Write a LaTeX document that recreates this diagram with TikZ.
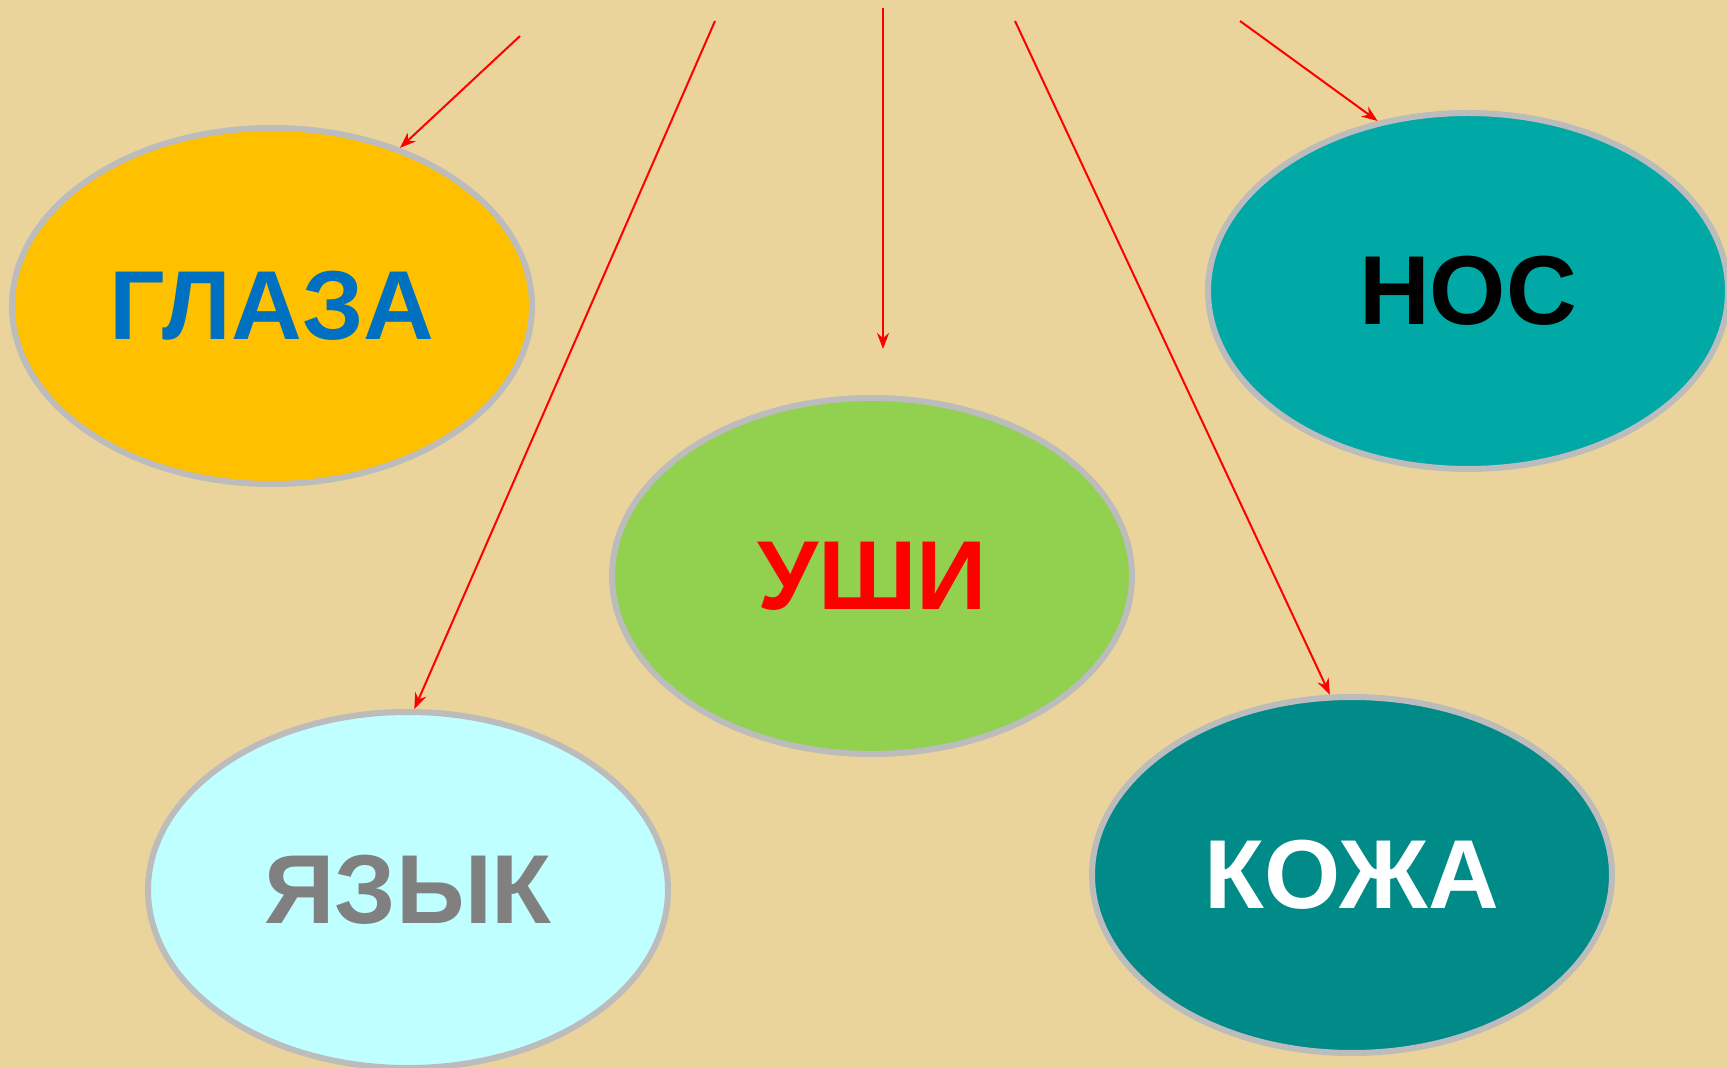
\documentclass[tikz,border=0pt]{standalone}
\usepackage{fontspec}
\setmainfont{Liberation Sans}
\usepackage{tikz}
\usetikzlibrary{shapes.geometric}
\usetikzlibrary{arrows.meta}
\definecolor{papyrus}{RGB}{235,212,156}
\definecolor{rimgray}{RGB}{188,188,188}
\definecolor{glazafill}{RGB}{255,192,0}
\definecolor{glazatext}{RGB}{0,112,192}
\definecolor{nosfill}{RGB}{0,168,166}
\definecolor{ushifill}{RGB}{146,208,80}
\definecolor{yazykfill}{RGB}{192,255,255}
\definecolor{yazyktext}{RGB}{128,128,128}
\definecolor{kozhafill}{RGB}{0,139,136}

\begin{document}
\begin{tikzpicture}[x=0.5pt, y=-0.5pt,
    sense/.style={ellipse, draw=rimgray, line width=3pt, minimum width=260pt, minimum height=178pt, inner sep=0pt, font=\fontsize{49}{49}\selectfont\bfseries},
    pointer/.style={red, line width=1pt, -{Stealth[length=8pt,width=6pt]}}]
      \fill[papyrus] (0, 0) rectangle (1727, 1068);
      \useasboundingbox (0, 0) rectangle (1727, 1068);
      \node[sense, fill=glazafill, text=glazatext] (glaza) at (272, 306) {ГЛАЗА};
      \node[sense, fill=nosfill, text=black] (nos) at (1468, 291) {НОС};
      \node[sense, fill=ushifill, text=red] (ushi) at (872, 576) {УШИ};
      \node[sense, fill=yazykfill, text=yazyktext] (yazyk) at (408, 890) {ЯЗЫК};
      \node[sense, fill=kozhafill, text=white] (kozha) at (1352, 875) {КОЖА};
      \coordinate (s1) at (520, 36);
      \coordinate (s2) at (715, 21);
      \coordinate (s3) at (883, 8);
      \coordinate (e3) at (883, 349);
      \coordinate (s4) at (1015, 21);
      \coordinate (s5) at (1240, 21);
      \draw[pointer] (s1) -- (glaza.51);
      \draw[pointer] (s2) -- (yazyk.88);
      \draw[pointer] (s3) -- (e3);
      \draw[pointer] (s4) -- (kozha.97);
      \draw[pointer] (s5) -- (nos.118);
    \end{tikzpicture}
\end{document}
